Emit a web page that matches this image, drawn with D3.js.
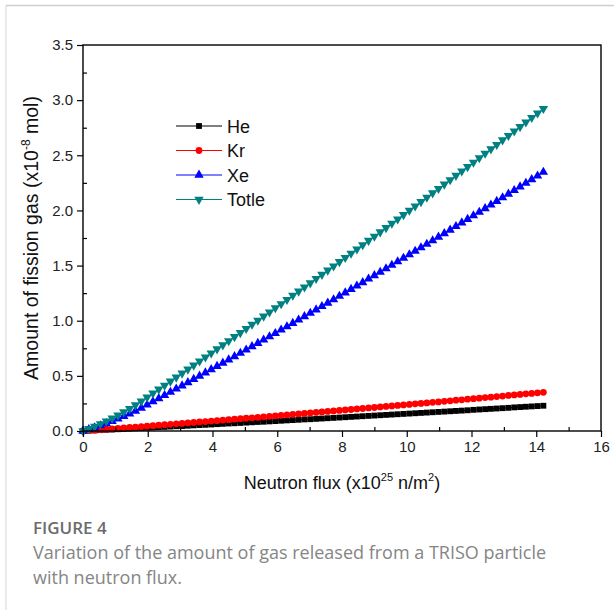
<!DOCTYPE html>
<html>
<head>
<meta charset="utf-8">
<script src="https://cdn.jsdelivr.net/npm/d3@7"></script>
<style>
  html, body { margin: 0; padding: 0; background: #fff; }
  svg { display: block; }
  .axis-title { font-family: "Liberation Sans", Arial, sans-serif; fill: #111; }
  .legend-text { font-family: "Liberation Sans", Arial, sans-serif; font-size: 18px; fill: #111; }
  .caption-head { font-family: "Open Sans", sans-serif; font-size: 17px; font-weight: 600; fill: #6b6b6b; }
  .caption { font-family: "Open Sans", sans-serif; font-size: 18px; fill: #858585; }
</style>
</head>
<body>
<svg id="chart"></svg>
<script>
const width = 614;
const height = 610;
const margin = { top: 45, right: 13, bottom: 179, left: 83 };

// neutron flux (x10^25 n/m^2)
const flux = [
  0, 0.18, 0.36, 0.54, 0.72, 0.9, 1.08, 1.26, 1.44, 1.62, 1.8, 1.98, 2.16, 2.34, 2.52, 2.7,
  2.88, 3.06, 3.24, 3.42, 3.6, 3.78, 3.96, 4.14, 4.32, 4.5, 4.68, 4.86, 5.04, 5.22, 5.4, 5.58,
  5.76, 5.94, 6.12, 6.3, 6.48, 6.66, 6.84, 7.02, 7.2, 7.38, 7.56, 7.74, 7.92, 8.1, 8.28, 8.46,
  8.64, 8.82, 9.0, 9.18, 9.36, 9.54, 9.72, 9.9, 10.08, 10.26, 10.44, 10.62, 10.8, 10.98, 11.16, 11.34,
  11.52, 11.7, 11.88, 12.06, 12.24, 12.42, 12.6, 12.78, 12.96, 13.14, 13.32, 13.5, 13.68, 13.86, 14.04, 14.22,
];
const he = [
  0, 0.003, 0.005, 0.008, 0.011, 0.013, 0.016, 0.018, 0.021, 0.024, 0.026, 0.029, 0.032, 0.035, 0.037, 0.04,
  0.043, 0.045, 0.048, 0.051, 0.054, 0.056, 0.059, 0.062, 0.065, 0.068, 0.07, 0.073, 0.076, 0.079, 0.082, 0.084,
  0.087, 0.09, 0.093, 0.096, 0.099, 0.102, 0.105, 0.107, 0.11, 0.113, 0.116, 0.119, 0.122, 0.125, 0.128, 0.131,
  0.134, 0.137, 0.14, 0.143, 0.146, 0.149, 0.152, 0.155, 0.158, 0.161, 0.164, 0.167, 0.17, 0.173, 0.176, 0.179,
  0.182, 0.185, 0.188, 0.192, 0.195, 0.198, 0.201, 0.204, 0.207, 0.21, 0.214, 0.217, 0.22, 0.223, 0.226, 0.229,
];
const kr = [
  0, 0.004, 0.008, 0.012, 0.016, 0.02, 0.024, 0.028, 0.032, 0.036, 0.04, 0.044, 0.048, 0.053, 0.057, 0.061,
  0.065, 0.069, 0.073, 0.077, 0.082, 0.086, 0.09, 0.094, 0.099, 0.103, 0.107, 0.111, 0.116, 0.12, 0.124, 0.129,
  0.133, 0.137, 0.142, 0.146, 0.151, 0.155, 0.159, 0.164, 0.168, 0.173, 0.177, 0.182, 0.186, 0.191, 0.195, 0.2,
  0.204, 0.209, 0.213, 0.218, 0.223, 0.227, 0.232, 0.236, 0.241, 0.246, 0.25, 0.255, 0.26, 0.264, 0.269, 0.274,
  0.279, 0.283, 0.288, 0.293, 0.298, 0.303, 0.307, 0.312, 0.317, 0.322, 0.327, 0.332, 0.337, 0.341, 0.346, 0.351,
];
const xe = [
  0, 0.015, 0.031, 0.049, 0.068, 0.088, 0.11, 0.133, 0.157, 0.182, 0.209, 0.237, 0.266, 0.295, 0.323, 0.353,
  0.382, 0.411, 0.44, 0.469, 0.499, 0.528, 0.558, 0.587, 0.617, 0.646, 0.676, 0.706, 0.736, 0.766, 0.796, 0.826,
  0.856, 0.886, 0.917, 0.947, 0.977, 1.008, 1.038, 1.069, 1.1, 1.13, 1.161, 1.192, 1.223, 1.254, 1.285, 1.316,
  1.347, 1.379, 1.41, 1.441, 1.473, 1.504, 1.536, 1.568, 1.599, 1.631, 1.663, 1.695, 1.727, 1.759, 1.791, 1.823,
  1.856, 1.888, 1.92, 1.953, 1.985, 2.018, 2.051, 2.083, 2.116, 2.149, 2.182, 2.215, 2.248, 2.281, 2.314, 2.348,
];
const totle = [
  0, 0.02, 0.041, 0.064, 0.089, 0.115, 0.143, 0.172, 0.203, 0.236, 0.27, 0.306, 0.342, 0.378, 0.414, 0.451,
  0.487, 0.523, 0.56, 0.596, 0.633, 0.67, 0.706, 0.743, 0.78, 0.817, 0.854, 0.891, 0.928, 0.966, 1.003, 1.04,
  1.078, 1.116, 1.153, 1.191, 1.229, 1.267, 1.304, 1.342, 1.381, 1.419, 1.457, 1.495, 1.534, 1.572, 1.611, 1.649,
  1.688, 1.727, 1.765, 1.804, 1.843, 1.882, 1.921, 1.961, 2.0, 2.039, 2.078, 2.118, 2.158, 2.197, 2.237, 2.277,
  2.316, 2.356, 2.396, 2.436, 2.476, 2.517, 2.557, 2.597, 2.638, 2.678, 2.719, 2.759, 2.8, 2.841, 2.882, 2.923,
];

const seriesNames = ["He", "Kr", "Xe", "Totle"];
const seriesValues = [he, kr, xe, totle];
const seriesColors = ["#000000", "#ff0000", "#0000ff", "#008080"];
const xTicks = [0, 2, 4, 6, 8, 10, 12, 14, 16];
const xMinor = [1, 3, 5, 7, 9, 11, 13, 15];
const yTicks = [0, 0.5, 1.0, 1.5, 2.0, 2.5, 3.0, 3.5];
const yMinor = [0.25, 0.75, 1.25, 1.75, 2.25, 2.75, 3.25];

const svg = d3.select("#chart").attr("width", width).attr("height", height);

// card border (top + left)
svg.append("line").attr("x1", 6).attr("x2", width).attr("y1", 5.5).attr("y2", 5.5)
  .attr("stroke", "#cfcfcf").attr("stroke-width", 1.5);
svg.append("line").attr("x1", 6).attr("x2", 6).attr("y1", 5).attr("y2", height)
  .attr("stroke", "#d6d6d6").attr("stroke-width", 1);

const x = d3.scaleLinear().domain([0, 16]).range([margin.left, width - margin.right]);
const y = d3.scaleLinear().domain([0, 3.5]).range([height - margin.bottom, margin.top]);

const symbols = [
  d3.symbol().type(d3.symbolSquare).size(34),
  d3.symbol().type(d3.symbolCircle).size(36),
  d3.symbol().type(d3.symbolTriangle).size(38),
  d3.symbol().type(d3.symbolTriangle).size(38),
];
const rotations = [0, 0, 0, 180];

// series
const line = d3.line().x((d) => x(d[0])).y((d) => y(d[1]));
seriesValues.forEach((vals, i) => {
  const pts = flux.map((f, j) => [f, vals[j]]);
  const g = svg.append("g");
  g.append("path").attr("d", line(pts)).attr("fill", "none")
    .attr("stroke", seriesColors[i]).attr("stroke-width", 1);
  g.selectAll("path.m").data(pts).join("path").attr("class", "m")
    .attr("d", symbols[i])
    .attr("transform", (d) => `translate(${x(d[0])},${y(d[1])}) rotate(${rotations[i]})`)
    .attr("fill", seriesColors[i]);
});

// axes
function styleAxis(g) {
  g.select(".domain").remove();
  g.selectAll(".tick line").attr("stroke", "#000").attr("stroke-width", 1.2);
  g.selectAll(".tick text")
    .attr("font-family", "'Liberation Sans', Arial, sans-serif")
    .attr("font-size", 15).attr("fill", "#222");
}
svg.append("g").attr("transform", `translate(0,${y(0)})`)
  .call(d3.axisBottom(x).tickValues(xTicks).tickSize(6).tickPadding(4).tickFormat(d3.format("d")))
  .call(styleAxis);
svg.append("g").attr("transform", `translate(0,${y(0)})`)
  .call(d3.axisBottom(x).tickValues(xMinor).tickSize(-4).tickFormat(""))
  .call(styleAxis);
svg.append("g").attr("transform", `translate(${x(0)},0)`)
  .call(d3.axisLeft(y).tickValues(yTicks).tickSize(6).tickPadding(4).tickFormat(d3.format(".1f")))
  .call(styleAxis);
svg.append("g").attr("transform", `translate(${x(0)},0)`)
  .call(d3.axisLeft(y).tickValues(yMinor).tickSize(-4).tickFormat(""))
  .call(styleAxis);

svg.append("rect")
  .attr("x", x(0)).attr("y", y(3.5))
  .attr("width", x(16) - x(0)).attr("height", y(0) - y(3.5))
  .attr("fill", "none").attr("stroke", "#000").attr("stroke-width", 1.4);

// axis titles
const xt = svg.append("text").attr("class", "axis-title").attr("font-size", 18)
  .attr("x", (x(0) + x(16)) / 2).attr("y", 489).attr("text-anchor", "middle");
xt.append("tspan").text("Neutron flux (x10");
xt.append("tspan").attr("dy", -8).attr("font-size", 11).text("25");
xt.append("tspan").attr("dy", 8).text(" n/m");
xt.append("tspan").attr("dy", -8).attr("font-size", 11).text("2");
xt.append("tspan").attr("dy", 8).text(")");

const yt = svg.append("text").attr("class", "axis-title").attr("font-size", 19.5)
  .attr("transform", `translate(38,${(y(0) + y(3.5)) / 2}) rotate(-90)`)
  .attr("text-anchor", "middle");
yt.append("tspan").text("Amount of fission gas (x10");
yt.append("tspan").attr("dy", -8).attr("font-size", 12).text("-8");
yt.append("tspan").attr("dy", 8).text(" mol)");

// legend
const legend = svg.append("g");
seriesNames.forEach((name, i) => {
  const ly = 126 + i * 24.5;
  legend.append("line").attr("x1", 176).attr("x2", 222).attr("y1", ly).attr("y2", ly)
    .attr("stroke", seriesColors[i]).attr("stroke-width", 1.2);
  legend.append("path").attr("d", symbols[i])
    .attr("transform", `translate(199,${ly}) rotate(${rotations[i]})`)
    .attr("fill", seriesColors[i]);
  legend.append("text").attr("class", "legend-text").attr("x", 227).attr("y", ly + 6.5).text(name);
});

// caption
svg.append("text").attr("class", "caption-head").attr("x", 33).attr("y", 534).text("FIGURE 4");
svg.append("text").attr("class", "caption").attr("x", 33).attr("y", 559)
  .text("Variation of the amount of gas released from a TRISO particle");
svg.append("text").attr("class", "caption").attr("x", 33).attr("y", 584)
  .text("with neutron flux.");
</script>
</body>
</html>
